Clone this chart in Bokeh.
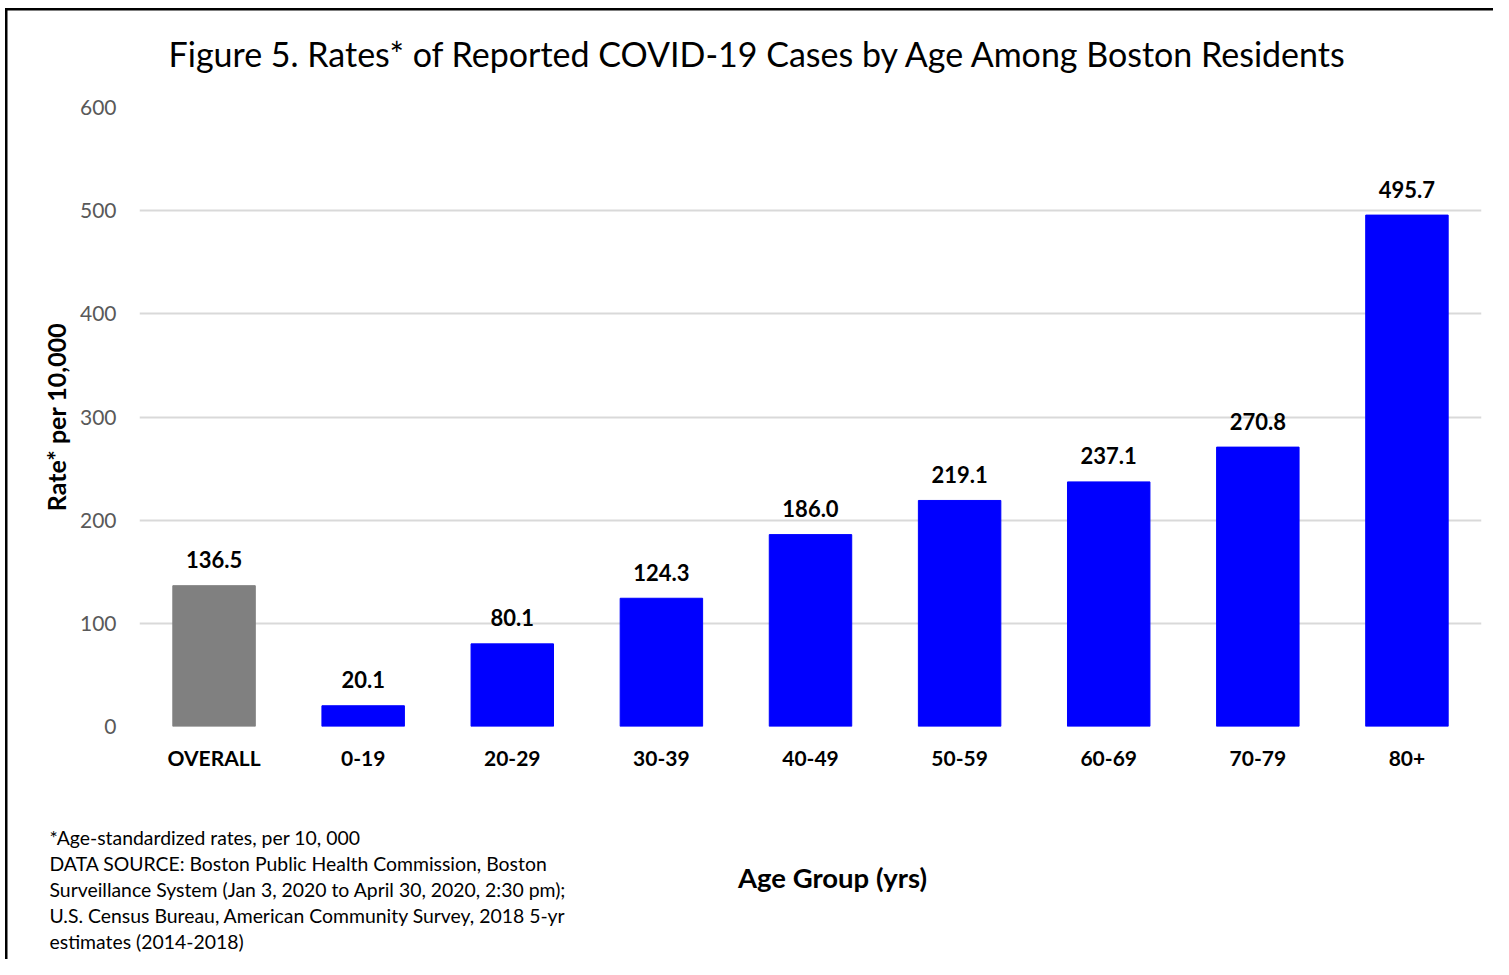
from bokeh.plotting import figure
from bokeh.models import ColumnDataSource, Range1d, FactorRange, LabelSet
from bokeh.layouts import column, row
from bokeh.core.properties import value
from bokeh.embed import file_html
from bokeh.resources import INLINE

# ---- data ----
categories = ["OVERALL", "0-19", "20-29", "30-39", "40-49", "50-59", "60-69", "70-79", "80+"]
rates = [136.5, 20.1, 80.1, 124.3, 186.0, 219.1, 237.1, 270.8, 495.7]
bar_colors = ["#808080"] + ["#0000FF"] * 8
y_ticks = [0, 100, 200, 300, 400, 500, 600]

title_text = "Figure 5. Rates* of Reported COVID-19 Cases by Age Among Boston Residents"
y_title = "Rate* per 10,000"
x_title = "Age Group (yrs)"
footnote_lines = [
    "*Age-standardized rates, per 10, 000",
    "DATA SOURCE: Boston Public Health Commission, Boston",
    "Surveillance System (Jan 3, 2020 to April 30, 2020, 2:30 pm);",
    "U.S. Census Bureau, American Community Survey, 2018 5-yr",
    "estimates (2014-2018)",
]

FONT = "Lato"
W = 1493
TOP_H, MAIN_H, BOT_H = 80, 720, 159   # stacked heights (total 959)


def text_panel(height, items):
    """A figure whose frame is the whole canvas, used to hold free text (pixel coords, y down)."""
    f = figure(width=W, height=height, x_range=Range1d(0, W), y_range=Range1d(height, 0),
               output_backend="svg", toolbar_location=None,
               min_border=0, min_border_left=0, min_border_right=0,
               min_border_top=0, min_border_bottom=0)
    f.axis.visible = False
    f.grid.visible = False
    f.outline_line_color = None
    f.background_fill_color = None
    f.border_fill_color = None
    for txt, x, y, size, style, align in items:
        f.text(x=[x], y=[y], text=[txt], text_align=align, text_baseline="middle",
               text_font=value(FONT), text_font_size=size, text_font_style=style,
               text_color="black")
    return f


# ---- title panel ----
top = text_panel(TOP_H, [(title_text, 758, 53, "34px", "normal", "center")])

# ---- main chart ----
src = ColumnDataSource(dict(
    cat=categories,
    rate=rates,
    color=bar_colors,
    lbl=[f"{v:.1f}" for v in rates],
))

p = figure(
    width=W, height=MAIN_H,
    x_range=FactorRange(*categories, range_padding=0),
    y_range=Range1d(0, 600),
    output_backend="svg", toolbar_location=None,
    min_border_left=139, min_border_right=12, min_border_top=27, min_border_bottom=74,
)
p.outline_line_color = None
p.background_fill_color = "white"
p.border_fill_color = None

p.vbar(x="cat", top="rate", width=0.553, color="color", source=src)

p.add_layout(LabelSet(x="cat", y="rate", text="lbl", source=src,
                      text_align="center", text_baseline="middle", y_offset=26,
                      text_font=value(FONT), text_font_style="bold", text_font_size="22px",
                      text_color="black"))

p.xgrid.grid_line_color = None
p.ygrid.grid_line_color = "#D9D9D9"
p.ygrid.grid_line_width = 2
p.yaxis.ticker = y_ticks
p.yaxis.axis_line_color = None
p.yaxis.major_tick_line_color = None
p.yaxis.major_tick_out = 0
p.yaxis.major_tick_in = 0
p.yaxis.minor_tick_line_color = None
p.yaxis.major_label_text_font = FONT
p.yaxis.major_label_text_font_size = "21px"
p.yaxis.major_label_text_color = "#595959"
p.yaxis.major_label_standoff = 23
p.yaxis.axis_label = y_title
p.yaxis.axis_label_text_font = FONT
p.yaxis.axis_label_text_font_size = "25px"
p.yaxis.axis_label_text_font_style = "bold"
p.yaxis.axis_label_text_color = "black"
p.yaxis.axis_label_standoff = 6

p.xaxis.axis_line_color = None
p.xaxis.major_tick_line_color = None
p.xaxis.major_tick_out = 0
p.xaxis.major_tick_in = 0
p.xaxis.minor_tick_line_color = None
p.xaxis.major_label_text_font = FONT
p.xaxis.major_label_text_font_size = "21px"
p.xaxis.major_label_text_font_style = "bold"
p.xaxis.major_label_text_color = "black"
p.xaxis.major_label_standoff = 18

# ---- bottom panel: x-axis title and footnote ----
bot_items = [(x_title, 832, 77, "27.5px", "bold", "center")]
for i, line in enumerate(footnote_lines):
    bot_items.append((line, 49, 37 + 26 * i, "19.4px", "normal", "left"))
bot = text_panel(BOT_H, bot_items)

# the chart is wrapped in its own row so the text panels keep full-width frames
layout = column(top, row(p, spacing=0), bot, spacing=0)
layout.styles = {
    "background": ("linear-gradient(#000,#000) 5px 8px / 2.5px 100% no-repeat, "
                   "linear-gradient(#000,#000) 5px 8px / 100% 2.5px no-repeat, #ffffff"),
}

open("out.html", "w").write(file_html(layout, INLINE))
